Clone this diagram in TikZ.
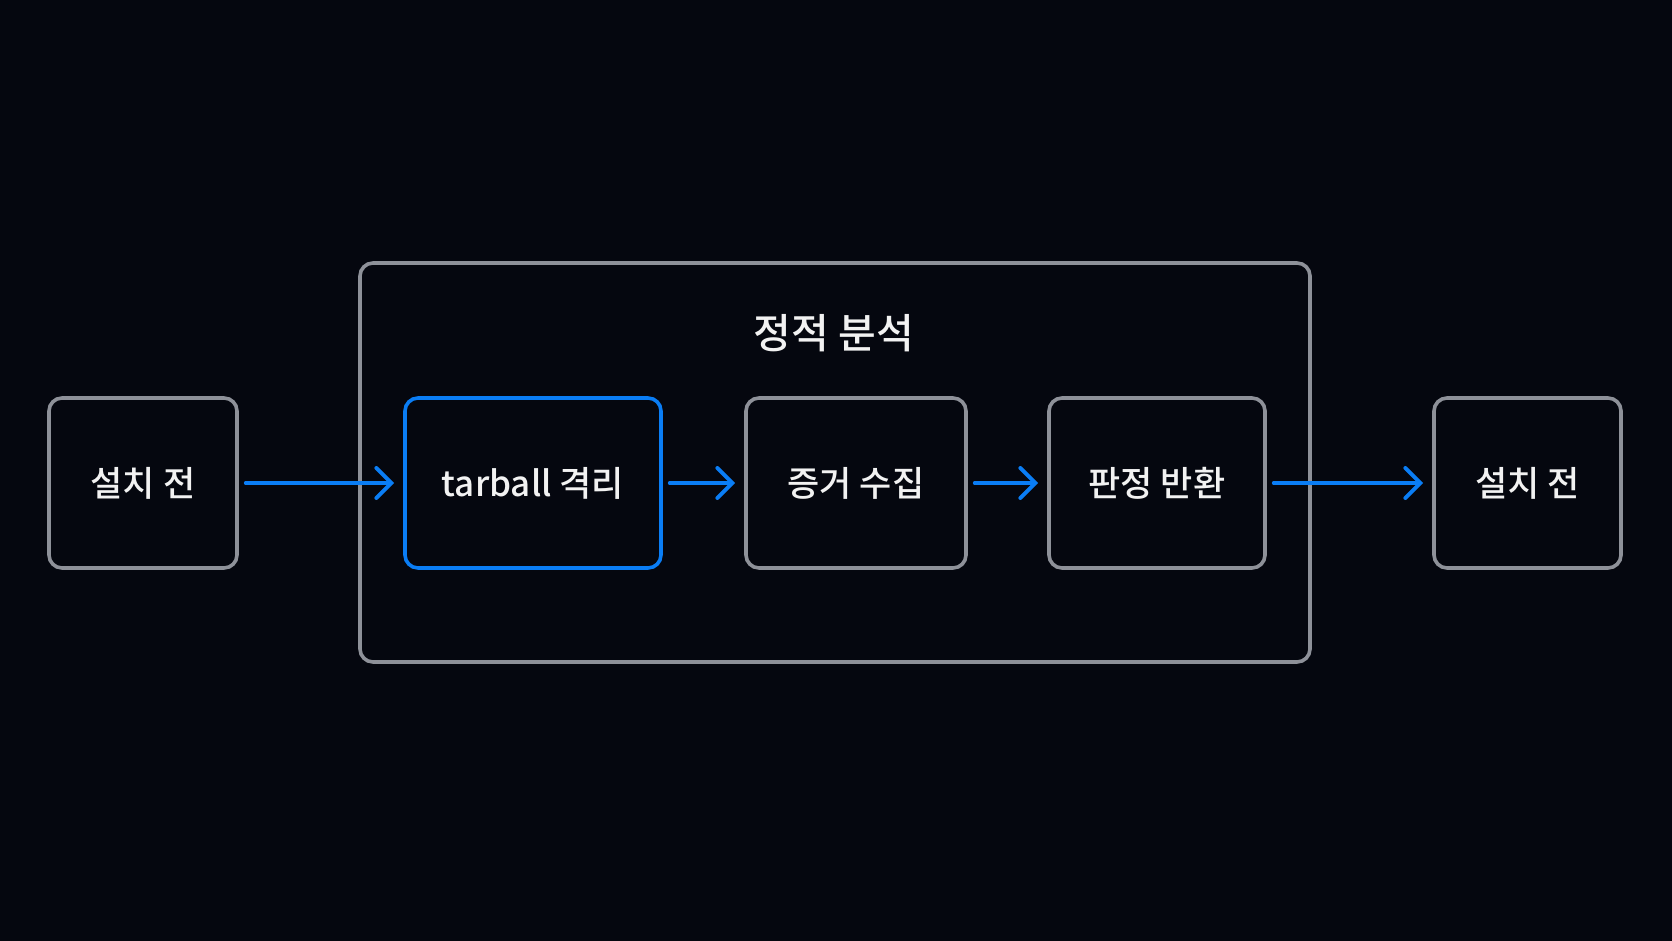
\documentclass[tikz,border=0pt]{standalone}
\usepackage{fontspec}
\setmainfont{Noto Sans CJK KR Medium}
\usetikzlibrary{arrows.meta}
\definecolor{bg}{HTML}{05070F}
\definecolor{boxgray}{HTML}{8E9199}
\definecolor{accent}{HTML}{0A7DF5}
\definecolor{txt}{HTML}{F2F2F2}
\begin{document}
\begin{tikzpicture}[x=1pt,y=-1pt,
  box/.style={draw=boxgray,line width=3.6pt,rounded corners=13pt,minimum height=170pt,text=txt,font=\fontsize{35}{40}\selectfont,inner sep=0pt},
  hibox/.style={box,draw=accent},
  flow/.style={draw=accent,line width=4pt,line cap=round,-{Straight Barb[length=15pt,width=30pt,line width=4pt,line cap=round]}}]
\fill[bg] (0,0) rectangle (1672,941);
\useasboundingbox (0,0) rectangle (1672,941);
\node[box,minimum width=950pt,minimum height=399pt] (outer) at (835,462.5) {};
\node[text=txt,font=\fontsize{41}{46}\selectfont] (title) at (834,333) {정적 분석};
\node[box,minimum width=188pt] (b1) at (143,483) {설치 전};
\node[hibox,minimum width=256pt] (b2) at (533,483) {tarball 격리};
\node[box,minimum width=220pt] (b3) at (856,483) {증거 수집};
\node[box,minimum width=216pt] (b4) at (1157,483) {판정 반환};
\node[box,minimum width=187pt] (b5) at (1527.5,483) {설치 전};
\draw[flow,shorten <=7pt,shorten >=9pt] (b1) -- (b2);
\draw[flow,shorten <=7pt,shorten >=9pt] (b2) -- (b3);
\draw[flow,shorten <=7pt,shorten >=9pt] (b3) -- (b4);
\draw[flow,shorten <=7pt,shorten >=9pt] (b4) -- (b5);
\end{tikzpicture}
\end{document}
